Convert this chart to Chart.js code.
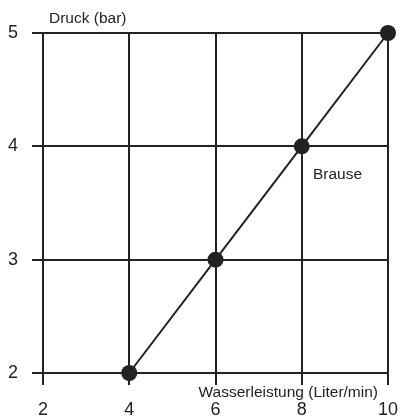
<!DOCTYPE html>
<html><head><meta charset="utf-8">
<script src="https://cdn.jsdelivr.net/npm/chart.js@4/dist/chart.umd.min.js"></script>
<style>html,body{margin:0;padding:0;background:#fff}#wrap{width:403px;height:417px}</style>
</head><body><div id="wrap"><canvas id="c" width="403" height="417"></canvas></div>
<script>
const flowValues = [4, 6, 8, 10];
const pressureValues = [2, 3, 4, 5];
const xTicks = [2, 4, 6, 8, 10];
const yTicks = [2, 3, 4, 5];
const yTitle = "Druck (bar)";
const xTitle = "Wasserleistung (Liter/min)";
const seriesLabel = "Brause";

const FONT = "'Liberation Sans', Arial, sans-serif";
const INK = "#222";

const labelsPlugin = {
  id: 'labels',
  afterDraw(chart) {
    const ctx = chart.ctx, xs = chart.scales.x, ys = chart.scales.y;
    ctx.save();
    ctx.fillStyle = INK;
    ctx.font = "15.5px " + FONT;
    ctx.textBaseline = 'alphabetic';
    ctx.textAlign = 'left';
    ctx.fillText(yTitle, xs.getPixelForValue(2) + 6, ys.getPixelForValue(5) - 10);
    ctx.textAlign = 'right';
    ctx.fillText(xTitle, xs.getPixelForValue(10) - 10, ys.getPixelForValue(2) + 24);
    ctx.textAlign = 'left';
    ctx.textBaseline = 'middle';
    ctx.fillText(seriesLabel, xs.getPixelForValue(8.26), ys.getPixelForValue(3.75));
    ctx.restore();
  }
};

new Chart(document.getElementById('c'), {
  type: 'line',
  data: {
    datasets: [{
      data: flowValues.map((x, i) => ({x, y: pressureValues[i]})),
      borderColor: INK, borderWidth: 2,
      pointRadius: 8, pointBackgroundColor: INK, pointBorderColor: INK, pointBorderWidth: 0,
      clip: false, tension: 0
    }]
  },
  options: {
    responsive: false, animation: false, devicePixelRatio: 1,
    layout: {padding: {top: 33, right: 15, left: 0, bottom: 0}},
    plugins: {legend: {display: false}, tooltip: {enabled: false}},
    scales: {
      x: {
        type: 'linear', min: 2, max: 10,
        afterBuildTicks: s => { s.ticks = xTicks.map(v => ({value: v})); },
        afterFit: s => { s.height = 44; s.paddingLeft = 0; s.paddingRight = 0; },
        grid: {color: INK, lineWidth: 2, tickLength: 12, tickColor: INK},
        border: {color: INK, width: 2},
        ticks: {color: INK, font: {family: FONT, size: 18}, padding: 14, maxRotation: 0}
      },
      y: {
        type: 'linear', min: 2, max: 5,
        afterBuildTicks: s => { s.ticks = yTicks.map(v => ({value: v})); },
        afterFit: s => { s.width = 43; s.paddingTop = 0; s.paddingBottom = 0; },
        grid: {color: INK, lineWidth: 2, tickLength: 11, tickColor: INK},
        border: {color: INK, width: 2},
        ticks: {color: INK, font: {family: FONT, size: 18}, padding: 14}
      }
    }
  },
  plugins: [labelsPlugin]
});
</script></body></html>
